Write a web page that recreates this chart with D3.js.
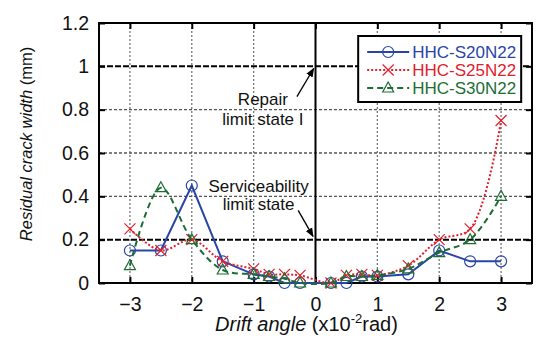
<!DOCTYPE html>
<html>
<head>
<meta charset="utf-8">
<script src="https://cdn.jsdelivr.net/npm/d3@7"></script>
<style>
  body { margin: 0; background: #fff; }
  svg text { font-family: "Liberation Sans", Arial, sans-serif; }
</style>
</head>
<body>
<div class="chart-container"></div>
<script>
// drift angle (x10^-2 rad)
const drift = [-3, -2.5, -2, -1.5, -1, -0.75, -0.5, -0.25, 0.25, 0.5, 0.75, 1, 1.5, 2, 2.5, 3];
// residual crack width (mm)
const s20 = [0.15, 0.15, 0.45, 0.10, 0.04, 0.03, 0.0, 0.0, 0.0, 0.0, 0.03, 0.03, 0.04, 0.15, 0.10, 0.10];
const s25 = [0.25, 0.15, 0.20, 0.10, 0.065, 0.04, 0.04, 0.035, 0.0, 0.035, 0.04, 0.035, 0.08, 0.20, 0.25, 0.75];
const s30 = [0.08, 0.44, 0.20, 0.06, 0.04, 0.03, 0.02, 0.0, 0.0, 0.03, 0.03, 0.035, 0.065, 0.14, 0.20, 0.40];
const seriesNames = ['HHC-S20N22', 'HHC-S25N22', 'HHC-S30N22'];
const xTicks = [-3, -2, -1, 0, 1, 2, 3];
const yTicks = [0, 0.2, 0.4, 0.6, 0.8, 1, 1.2];

const margin = { top: 23, right: 5, bottom: 59, left: 99 };
const width = 537 - margin.left - margin.right;
const height = 342 - margin.top - margin.bottom;

const svg = d3.select('.chart-container')
  .append('svg')
  .attr('width', 537)
  .attr('height', 342)
  .append('g')
  .attr('transform', `translate(${margin.left},${margin.top})`);

const x = d3.scaleLinear().domain([-3.5, 3.5]).range([0, width]);
const y = d3.scaleLinear().domain([0, 1.2]).range([height, 0]);

// grid
svg.selectAll('.vgrid')
  .data(xTicks.filter(d => d !== 0))
  .join('line')
  .attr('x1', d => x(d)).attr('x2', d => x(d))
  .attr('y1', 0).attr('y2', height)
  .attr('stroke', '#777').attr('stroke-width', 1.3).attr('stroke-dasharray', '2,2');

svg.selectAll('.hgrid')
  .data([0.4, 0.6, 0.8])
  .join('line')
  .attr('x1', 0).attr('x2', width)
  .attr('y1', d => y(d)).attr('y2', d => y(d))
  .attr('stroke', '#555').attr('stroke-width', 1.3).attr('stroke-dasharray', '3,2');

// limit state lines
svg.selectAll('.limit')
  .data([0.2, 1])
  .join('line')
  .attr('x1', 0).attr('x2', width)
  .attr('y1', d => y(d)).attr('y2', d => y(d))
  .attr('stroke', '#000').attr('stroke-width', 2).attr('stroke-dasharray', '6,2');

// zero drift line
svg.append('line')
  .attr('x1', x(0)).attr('x2', x(0)).attr('y1', 0).attr('y2', height)
  .attr('stroke', '#000').attr('stroke-width', 2);

// axes with inside ticks
const fmt = d => d3.format('~g')(d);
svg.append('g').attr('transform', `translate(0,${height})`)
  .call(d3.axisBottom(x).tickValues(xTicks).tickSizeInner(-6).tickSizeOuter(0).tickPadding(14).tickFormat(fmt));
svg.append('g')
  .call(d3.axisTop(x).tickValues(xTicks).tickSizeInner(-6).tickSizeOuter(0).tickFormat(''));
svg.append('g')
  .call(d3.axisLeft(y).tickValues(yTicks).tickSizeInner(-6).tickSizeOuter(0).tickPadding(10).tickFormat(fmt));
svg.append('g').attr('transform', `translate(${width},0)`)
  .call(d3.axisRight(y).tickValues(yTicks).tickSizeInner(-6).tickSizeOuter(0).tickFormat(''));

svg.selectAll('.domain').remove();
svg.selectAll('.tick line').attr('stroke', '#000').attr('stroke-width', 2);
svg.selectAll('.tick text').attr('font-size', 19.5).attr('fill', '#111');

svg.append('rect')
  .attr('width', width).attr('height', height)
  .attr('fill', 'none').attr('stroke', '#000').attr('stroke-width', 2);

// series
const series = [
  { name: seriesNames[0], values: s20, color: '#2a45a8', dash: null, curve: d3.curveLinear, marker: 'circle' },
  { name: seriesNames[1], values: s25, color: '#e2202c', dash: '2,2', curve: d3.curveCatmullRom, marker: 'cross' },
  { name: seriesNames[2], values: s30, color: '#1d6e35', dash: '6,4', curve: d3.curveCatmullRom, marker: 'triangle' }
];

function drawMarker(g, type, color) {
  if (type === 'circle') {
    g.append('circle').attr('r', 5.5).attr('fill', 'none').attr('stroke', color).attr('stroke-width', 1.2);
  } else if (type === 'cross') {
    g.append('path').attr('d', 'M-5.5,-5.5L5.5,5.5M-5.5,5.5L5.5,-5.5').attr('stroke', color).attr('stroke-width', 1.2);
  } else {
    g.append('path').attr('d', 'M0,-6L5.5,4L-5.5,4Z').attr('fill', 'none').attr('stroke', color).attr('stroke-width', 1.2);
  }
}

series.forEach(s => {
  const pts = drift.map((d, i) => [d, s.values[i]]);
  const line = d3.line().x(d => x(d[0])).y(d => y(d[1])).curve(s.curve);
  svg.append('path')
    .attr('d', line(pts))
    .attr('fill', 'none')
    .attr('stroke', s.color)
    .attr('stroke-width', 2)
    .attr('stroke-dasharray', s.dash);
  pts.forEach(p => {
    const g = svg.append('g').attr('transform', `translate(${x(p[0])},${y(p[1])})`);
    drawMarker(g, s.marker, s.color);
  });
});

// annotations
const ann = svg.append('g').attr('font-size', 17).attr('fill', '#111').attr('text-anchor', 'middle');
ann.append('text').attr('x', x(-0.85)).attr('y', y(0.82)).text('Repair');
ann.append('text').attr('x', x(-0.85)).attr('y', y(0.73)).text('limit state I');
ann.append('text').attr('x', x(-0.92)).attr('y', y(0.42)).text('Serviceability');
ann.append('text').attr('x', x(-0.92)).attr('y', y(0.335)).text('limit state');

svg.append('defs').append('marker')
  .attr('id', 'arr').attr('viewBox', '0 0 10 10').attr('refX', 9).attr('refY', 5)
  .attr('markerWidth', 7).attr('markerHeight', 7).attr('orient', 'auto')
  .append('path').attr('d', 'M0,1L10,5L0,9Z').attr('fill', '#000');
svg.append('line')
  .attr('x1', x(-0.3)).attr('y1', y(0.86)).attr('x2', x(-0.03)).attr('y2', y(0.99))
  .attr('stroke', '#000').attr('stroke-width', 1.3).attr('marker-end', 'url(#arr)');
svg.append('line')
  .attr('x1', x(-0.28)).attr('y1', y(0.335)).attr('x2', x(-0.04)).attr('y2', y(0.215))
  .attr('stroke', '#000').attr('stroke-width', 1.3).attr('marker-end', 'url(#arr)');

// legend
const lg = svg.append('g').attr('transform', `translate(${x(0.69)},${y(1.14)})`);
lg.append('rect').attr('width', 163).attr('height', 66)
  .attr('fill', '#fff').attr('stroke', '#000').attr('stroke-width', 2);
series.forEach((s, i) => {
  const row = lg.append('g').attr('transform', `translate(0,${16 + i * 18})`);
  row.append('line').attr('x1', 9).attr('x2', 51).attr('stroke', s.color)
    .attr('stroke-width', 2).attr('stroke-dasharray', s.dash);
  drawMarker(row.append('g').attr('transform', 'translate(30,0)'), s.marker, s.color);
  row.append('text').attr('x', 54).attr('y', 6).attr('font-size', 17)
    .attr('fill', s.color).text(s.name);
});

// axis titles
const xt = svg.append('text')
  .attr('x', x(0) - 9).attr('y', height + 48)
  .attr('text-anchor', 'middle').attr('font-size', 20).attr('fill', '#111');
xt.append('tspan').attr('font-style', 'italic').text('Drift angle ');
xt.append('tspan').text('(x10');
xt.append('tspan').attr('font-size', 13).attr('dy', -8).text('-2');
xt.append('tspan').attr('dy', 8).text('rad)');

const yt = svg.append('text')
  .attr('transform', `translate(${-67},${height / 2 - 9}) rotate(-90)`)
  .attr('text-anchor', 'middle').attr('font-size', 16.5).attr('fill', '#111');
yt.append('tspan').attr('font-style', 'italic').text('Residual crack width ');
yt.append('tspan').text('(mm)');
</script>
</body>
</html>
